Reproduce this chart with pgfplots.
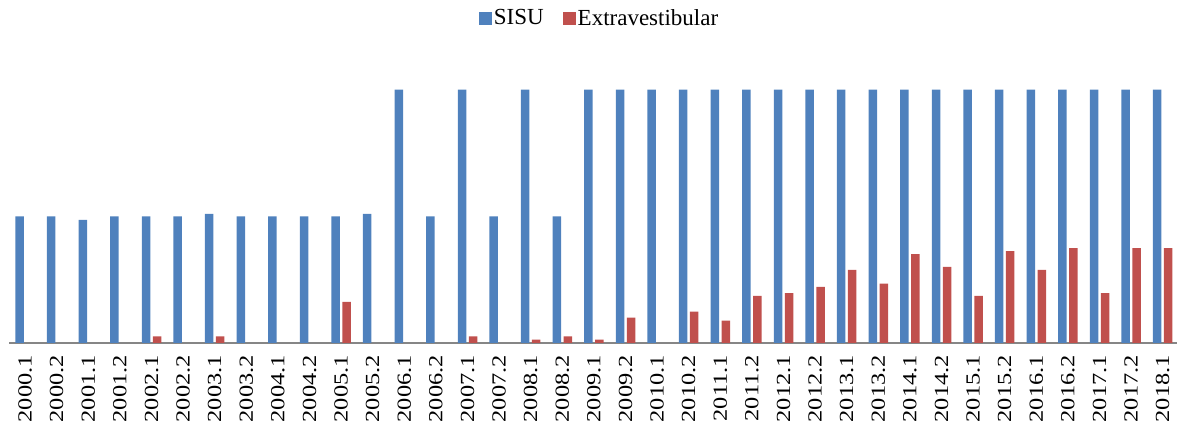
\documentclass[border=0pt]{standalone}
\usepackage{pgfplots}
\pgfplotsset{compat=1.18}
\usepackage{fontspec}
\setmainfont{Liberation Serif}
\definecolor{sisublue}{HTML}{4F81BD}
\definecolor{extrared}{HTML}{C0504D}
\definecolor{axgray}{HTML}{868686}
\newcommand\TL[1]{\scalebox{1.22}[1]{#1}}
\begin{document}
\begin{tikzpicture}
\useasboundingbox (0,0) rectangle (1177bp,425bp);
\begin{axis}[
  at={(9.3bp,82bp)}, anchor=south west,
  scale only axis, width=1169.2bp, height=253.3bp,
  xmin=-0.5, xmax=36.5, ymin=0, ymax=100,
  ybar=2.5bp, bar width=8.5bp,
  axis y line=none, axis x line*=bottom,
  x axis line style={-, draw=axgray, line width=1.3bp},
  xtick={0,...,36}, major tick length=0pt,
  xticklabels={\TL{2000.1},\TL{2000.2},\TL{2001.1},\TL{2001.2},\TL{2002.1},\TL{2002.2},\TL{2003.1},\TL{2003.2},\TL{2004.1},\TL{2004.2},\TL{2005.1},\TL{2005.2},\TL{2006.1},\TL{2006.2},\TL{2007.1},\TL{2007.2},\TL{2008.1},\TL{2008.2},\TL{2009.1},\TL{2009.2},\TL{2010.1},\TL{2010.2},\TL{2011.1},\TL{2011.2},\TL{2012.1},\TL{2012.2},\TL{2013.1},\TL{2013.2},\TL{2014.1},\TL{2014.2},\TL{2015.1},\TL{2015.2},\TL{2016.1},\TL{2016.2},\TL{2017.1},\TL{2017.2},\TL{2018.1}},
  xticklabel style={rotate=90, anchor=east, inner sep=0pt, font=\fontsize{20bp}{22bp}\selectfont},
  xticklabel shift=12bp,
  legend columns=2,
  legend style={at={(rel axis cs:0.5048,1.283)}, anchor=center, draw=none, fill=none,
    inner sep=0pt, font=\fontsize{23bp}{26bp}\selectfont,
    nodes={inner sep=1.5bp},
    /tikz/every even column/.append style={column sep=18bp}},
  legend image code/.code={\fill[#1] (0bp,-6.5bp) rectangle (13bp,6.5bp);},
]
\addplot[fill=sisublue, draw=none] coordinates {
(0,50) (1,50) (2,48.6) (3,50) (4,50) (5,50) (6,51) (7,50) (8,50) (9,50)
(10,50) (11,51) (12,100) (13,50) (14,100) (15,50) (16,100) (17,50) (18,100) (19,100)
(20,100) (21,100) (22,100) (23,100) (24,100) (25,100) (26,100) (27,100) (28,100) (29,100)
(30,100) (31,100) (32,100) (33,100) (34,100) (35,100) (36,100)};
\addplot[fill=extrared, draw=none] coordinates {
(0,0) (1,0) (2,0) (3,0) (4,2.6) (5,0) (6,2.6) (7,0) (8,0) (9,0)
(10,16.2) (11,0) (12,0) (13,0) (14,2.6) (15,0) (16,1.3) (17,2.6) (18,1.3) (19,10)
(20,0) (21,12.4) (22,8.8) (23,18.6) (24,19.7) (25,22.2) (26,28.9) (27,23.4) (28,35.1) (29,30.1)
(30,18.6) (31,36.3) (32,28.9) (33,37.5) (34,19.7) (35,37.5) (36,37.5)};
\legend{SISU, Extravestibular}
\end{axis}
\end{tikzpicture}
\end{document}
